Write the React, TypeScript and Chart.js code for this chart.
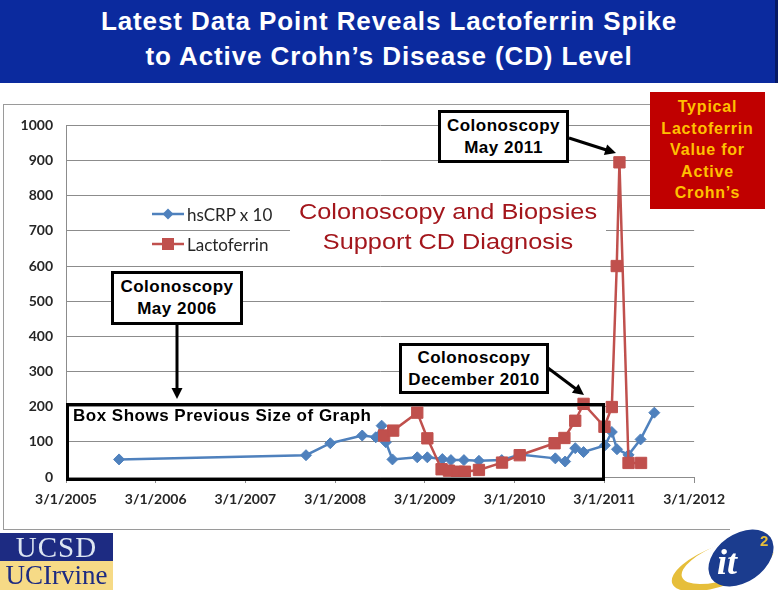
import React, { useEffect, useRef } from "react";
import { Chart, registerables } from "chart.js";

Chart.register(...registerables);

// ---- Data ----
const hsCRPDates = [
  "2005-10-03", "2007-11-03", "2008-02-10", "2008-06-19", "2008-08-13", "2008-09-06",
  "2008-09-23", "2008-10-20", "2009-01-29", "2009-03-11", "2009-05-11", "2009-06-15",
  "2009-08-07", "2009-10-07", "2010-01-08", "2010-03-22", "2010-08-14", "2010-09-23",
  "2010-11-03", "2010-12-07", "2011-03-04", "2011-04-01", "2011-04-22", "2011-06-08",
  "2011-07-27", "2011-09-21",
];
const hsCRPValues = [
  50, 62, 96, 118, 113, 146,
  99, 50, 56, 56, 51, 48,
  48, 46, 48, 64, 53, 44,
  82, 71, 90, 128, 79, 63,
  107, 183,
];
const lactoferrinDates = [
  "2008-09-16", "2008-10-23", "2009-01-29", "2009-03-11", "2009-05-08", "2009-06-07",
  "2009-07-11", "2009-08-11", "2009-10-07", "2010-01-09", "2010-03-22", "2010-08-11",
  "2010-09-20", "2010-11-03", "2010-12-07", "2011-03-02", "2011-04-01", "2011-04-21",
  "2011-05-02", "2011-06-08", "2011-07-29",
];
const lactoferrinValues = [
  118, 132, 183, 110, 22, 18,
  15, 15, 20, 41, 62, 96,
  111, 160, 208, 143, 199, 600,
  895, 40, 40,
];
const xTickDates = [
  "2005-03-01", "2006-03-01", "2007-03-01", "2008-03-01",
  "2009-03-01", "2010-03-01", "2011-03-01", "2012-03-01",
];
const yMin = 0;
const yMax = 1000;
const yStep = 100;
const seriesNames = ["hsCRP x 10", "Lactoferrin"];

const dayNum = (s: string) => {
  const [y, m, d] = s.split("-").map(Number);
  return Date.UTC(y, m - 1, d) / 86400000;
};
const fmtDay = (v: number) => {
  const dt = new Date(Math.round(v) * 86400000);
  return `${dt.getUTCMonth() + 1}/${dt.getUTCDate()}/${dt.getUTCFullYear()}`;
};

const BLUE = "#4F81BD";
const RED = "#C0504D";
const GRID = "#8c8c8c";
const axisFont = { family: "Lato, 'Open Sans', sans-serif", size: 14, weight: "bold" as const };

function Arrow({ x1, y1, x2, y2 }: { x1: number; y1: number; x2: number; y2: number }) {
  const len = Math.hypot(x2 - x1, y2 - y1);
  const ux = (x2 - x1) / len;
  const uy = (y2 - y1) / len;
  const hl = 11;
  const hw = 5.5;
  const bx = x2 - ux * hl;
  const by = y2 - uy * hl;
  const pts = `${x2},${y2} ${bx - uy * hw},${by + ux * hw} ${bx + uy * hw},${by - ux * hw}`;
  return (
    <g>
      <line x1={x1} y1={y1} x2={bx + ux * 1} y2={by + uy * 1} stroke="#000" strokeWidth={3} />
      <polygon points={pts} fill="#000" />
    </g>
  );
}

const boxText: React.CSSProperties = {
  fontFamily: "'Liberation Sans', Arial, sans-serif",
  fontWeight: "bold",
  fontSize: 17,
  letterSpacing: 0.5,
  color: "#000",
  lineHeight: "22px",
  textAlign: "center",
};

export default function App() {
  const canvasRef = useRef<HTMLCanvasElement | null>(null);

  useEffect(() => {
    if (!canvasRef.current) return;
    const chart = new Chart(canvasRef.current, {
      type: "line",
      data: {
        datasets: [
          {
            label: seriesNames[0],
            data: hsCRPDates.map((d, i) => ({ x: dayNum(d), y: hsCRPValues[i] })),
            borderColor: BLUE,
            backgroundColor: BLUE,
            pointStyle: "rectRot",
            pointRadius: 5.5,
            pointBorderWidth: 1,
            borderWidth: 2.5,
            tension: 0,
            order: 1,
          },
          {
            label: seriesNames[1],
            data: lactoferrinDates.map((d, i) => ({ x: dayNum(d), y: lactoferrinValues[i] })),
            borderColor: RED,
            backgroundColor: RED,
            pointStyle: "rect",
            pointRadius: 8,
            pointBorderWidth: 1,
            borderWidth: 2.5,
            tension: 0,
            order: 0,
          },
        ],
      },
      options: {
        animation: false,
        responsive: false,
        layout: { padding: { top: 16, right: 37, left: 0, bottom: 0 } },
        plugins: { legend: { display: false }, tooltip: { enabled: false } },
        scales: {
          x: {
            type: "linear",
            min: dayNum(xTickDates[0]),
            max: dayNum(xTickDates[xTickDates.length - 1]),
            afterBuildTicks: (s: any) => {
              s.ticks = xTickDates.map((d) => ({ value: dayNum(d) }));
            },
            afterFit: (s: any) => {
              s.height = 51;
            },
            ticks: {
              callback: (v: any) => fmtDay(Number(v)),
              maxRotation: 0,
              autoSkip: false,
              padding: 8,
              font: axisFont,
              color: "#262626",
            },
            grid: { drawOnChartArea: false, drawTicks: true, tickLength: 6, color: GRID, lineWidth: 1 },
            border: { color: GRID, width: 1 },
          },
          y: {
            min: yMin,
            max: yMax,
            afterFit: (s: any) => {
              s.width = 63;
            },
            ticks: {
              stepSize: yStep,
              padding: 13,
              font: axisFont,
              color: "#262626",
              callback: (v: any) => String(v),
            },
            grid: { color: GRID, drawTicks: false, lineWidth: 1 },
            border: { color: GRID, width: 1 },
          },
        },
      },
    });
    return () => chart.destroy();
  }, []);

  return (
    <div
      style={{
        position: "absolute",
        left: 0,
        top: 0,
        width: 778,
        height: 590,
        background: "#fff",
        overflow: "hidden",
      }}
    >
      {/* Title banner */}
      <div
        style={{
          position: "absolute",
          left: 0,
          top: 0,
          width: 775,
          height: 83,
          background: "#0B2A9E",
          borderRight: "3px solid #071a66",
        }}
      />
      <div
        style={{
          position: "absolute",
          left: 0,
          top: 4,
          width: 778,
          textAlign: "center",
          color: "#fff",
          fontFamily: "'Liberation Sans', Arial, sans-serif",
          fontWeight: "bold",
          fontSize: 26,
          letterSpacing: 0.9,
          lineHeight: "35px",
          whiteSpace: "nowrap",
        }}
      >
        <div>Latest Data Point Reveals Lactoferrin Spike</div>
        <div>to Active Crohn’s Disease (CD) Level</div>
      </div>

      {/* Chart panel border */}
      <div
        style={{
          position: "absolute",
          left: 3,
          top: 104,
          width: 726,
          height: 424,
          borderTop: "1px solid #9a9a9a",
          borderLeft: "1px solid #9a9a9a",
          borderBottom: "1px solid #9a9a9a",
        }}
      />
      <canvas
        ref={canvasRef}
        width={730}
        height={424}
        style={{ position: "absolute", left: 3, top: 104, width: 730, height: 424 }}
      />

      {/* Legend */}
      {[0, 1].map((i) => (
        <div
          key={i}
          style={{
            position: "absolute",
            left: 150,
            top: 203 + i * 30,
            height: 22,
            display: "flex",
            alignItems: "center",
            fontFamily: "Lato, 'Open Sans', sans-serif",
            fontSize: 17,
            color: "#262626",
          }}
        >
          <svg width={36} height={16} style={{ marginRight: 1 }}>
            <line x1={2} y1={8} x2={34} y2={8} stroke={i === 0 ? BLUE : RED} strokeWidth={2.5} />
            {i === 0 ? (
              <polygon points="18,2.5 23.5,8 18,13.5 12.5,8" fill={BLUE} />
            ) : (
              <rect x={12} y={2} width={12} height={12} fill={RED} />
            )}
          </svg>
          <span>{seriesNames[i]}</span>
        </div>
      ))}

      {/* Previous-size box */}
      <div
        style={{
          position: "absolute",
          left: 66,
          top: 403,
          width: 539,
          height: 78,
          border: "3px solid #000",
          boxSizing: "border-box",
        }}
      />
      <div style={{ ...boxText, position: "absolute", left: 73, top: 405, textAlign: "left", whiteSpace: "nowrap" }}>
        Box Shows Previous Size of Graph
      </div>

      {/* Colonoscopy May 2011 */}
      <div
        style={{
          ...boxText,
          position: "absolute",
          left: 438,
          top: 110,
          width: 131,
          height: 53,
          border: "3px solid #000",
          boxSizing: "border-box",
          background: "#fff",
          paddingTop: 2,
        }}
      >
        Colonoscopy
        <br />
        May 2011
      </div>

      {/* Colonoscopy May 2006 */}
      <div
        style={{
          ...boxText,
          position: "absolute",
          left: 111,
          top: 271,
          width: 132,
          height: 54,
          border: "3px solid #000",
          boxSizing: "border-box",
          background: "#fff",
          paddingTop: 2,
        }}
      >
        Colonoscopy
        <br />
        May 2006
      </div>

      {/* Colonoscopy December 2010 */}
      <div
        style={{
          ...boxText,
          position: "absolute",
          left: 399,
          top: 343,
          width: 150,
          height: 51,
          border: "3px solid #000",
          boxSizing: "border-box",
          background: "#fff",
          paddingTop: 1,
        }}
      >
        Colonoscopy
        <br />
        December 2010
      </div>

      {/* Red message */}
      <div
        style={{
          position: "absolute",
          left: 290,
          top: 197,
          width: 316,
          height: 60,
          background: "#fff",
        }}
      />
      <div
        style={{
          position: "absolute",
          left: 290,
          top: 197,
          width: 316,
          color: "#A3161C",
          fontFamily: "'Liberation Sans', Arial, sans-serif",
          fontSize: 22,
          lineHeight: "30px",
          textAlign: "center",
          whiteSpace: "nowrap",
          transform: "scaleX(1.15)",
          transformOrigin: "158px 0",
        }}
      >
        Colonoscopy and Biopsies
        <br />
        Support CD Diagnosis
      </div>

      {/* Typical Lactoferrin box */}
      <div
        style={{
          position: "absolute",
          left: 650,
          top: 92,
          width: 115,
          height: 117,
          background: "#C00000",
          color: "#FFC000",
          fontFamily: "'Liberation Sans', Arial, sans-serif",
          fontWeight: "bold",
          fontSize: 16,
          letterSpacing: 0.8,
          lineHeight: "21.5px",
          textAlign: "center",
          paddingTop: 4,
          boxSizing: "border-box",
        }}
      >
        Typical
        <br />
        Lactoferrin
        <br />
        Value for
        <br />
        Active
        <br />
        Crohn’s
      </div>

      {/* Arrows */}
      <svg
        width={778}
        height={590}
        style={{ position: "absolute", left: 0, top: 0, pointerEvents: "none" }}
      >
        <Arrow x1={569} y1={138} x2={616} y2={153} />
        <Arrow x1={177} y1={325} x2={177} y2={399} />
        <Arrow x1={548} y1={368} x2={584} y2={395} />
      </svg>

      {/* UCSD / UCIrvine logo */}
      <div
        style={{
          position: "absolute",
          left: 0,
          top: 533,
          width: 113,
          height: 28,
          background: "#1D2B82",
          color: "#dde6f2",
          fontFamily: "'Liberation Serif', 'DejaVu Serif', serif",
          fontSize: 29,
          lineHeight: "29px",
          letterSpacing: 1,
          textAlign: "center",
        }}
      >
        UCSD
      </div>
      <div
        style={{
          position: "absolute",
          left: 0,
          top: 561,
          width: 113,
          height: 29,
          background: "#F6DA86",
          color: "#1D2B82",
          fontFamily: "'Liberation Serif', 'DejaVu Serif', serif",
          fontSize: 27,
          lineHeight: "29px",
          textAlign: "center",
        }}
      >
        UCIrvine
      </div>

      {/* it2 logo */}
      <svg width={113} height={63} style={{ position: "absolute", left: 665, top: 527 }}>
        <ellipse cx={58} cy={38} rx={54} ry={20} transform="rotate(-20 58 38)" fill="#E6BE3A" />
        <ellipse cx={64} cy={33} rx={50} ry={18} transform="rotate(-20 64 33)" fill="#fff" />
        <ellipse cx={76} cy={31} rx={36} ry={24} transform="rotate(-35 76 31)" fill="#1B3C8E" />
        <text
          x={52}
          y={47}
          fill="#fff"
          fontFamily="'Liberation Serif', serif"
          fontStyle="italic"
          fontWeight="bold"
          fontSize={36}
        >
          it
        </text>
        <text x={95} y={19} fill="#E6BE3A" fontFamily="'Liberation Sans', sans-serif" fontWeight="bold" fontSize={15}>
          2
        </text>
      </svg>
    </div>
  );
}
